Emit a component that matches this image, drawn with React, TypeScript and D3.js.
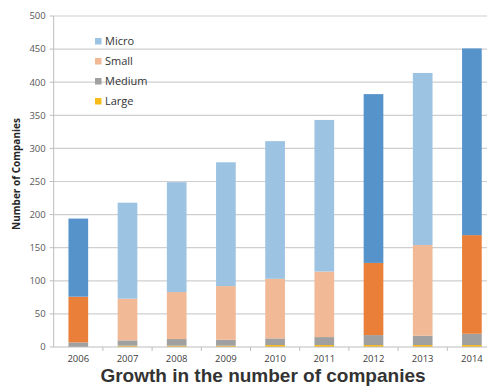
import React from "react";
import * as d3 from "d3";

const years = ["2006", "2007", "2008", "2009", "2010", "2011", "2012", "2013", "2014"];
const large = [0, 2, 2, 2, 3, 3, 3, 3, 3];
const medium = [7, 8, 10, 9, 10, 12, 15, 14, 17];
const small = [69, 63, 71, 81, 90, 99, 109, 137, 149];
const micro = [118, 145, 166, 187, 208, 229, 255, 260, 282];
const highlighted = ["2006", "2012", "2014"];
const yTicks = [0, 50, 100, 150, 200, 250, 300, 350, 400, 450, 500];
const seriesNames = ["Large", "Medium", "Small", "Micro"];
const legendNames = ["Micro", "Small", "Medium", "Large"];

const W = 487;
const H = 389;
const left = 53.7;
const step = 49.2;
const top = 16;
const bottom = 347;

const lightColors: Record<string, string> = {
  Micro: "#9dc3e3",
  Small: "#f1b995",
  Medium: "#a0a0a0",
  Large: "#f7bb1c",
};
const darkColors: Record<string, string> = {
  Micro: "#5593ca",
  Small: "#ea7f39",
  Medium: "#a0a0a0",
  Large: "#f7bb1c",
};

export default function App() {
  const rows = years.map((y, i) => ({
    year: y,
    Large: large[i],
    Medium: medium[i],
    Small: small[i],
    Micro: micro[i],
  }));
  const stack = d3.stack<any>().keys(seriesNames);
  const series = stack(rows);

  const x = d3
    .scaleBand<string>()
    .domain(years)
    .range([left, left + step * years.length])
    .paddingInner(0.6)
    .paddingOuter(0.3);
  const y = d3.scaleLinear().domain([0, 500]).range([bottom, top]);

  return (
    <svg
      width={W}
      height={H}
      style={{ position: "absolute", left: 0, top: 0, background: "#fff" }}
      fontFamily="'Open Sans', 'DejaVu Sans', sans-serif"
    >
      {yTicks.map((t) => (
        <g key={t}>
          {t > 0 && (
            <line x1={left} x2={W} y1={y(t)} y2={y(t)} stroke="#cfcfcf" strokeWidth={1.2} />
          )}
          <line x1={left - 4} x2={left} y1={y(t)} y2={y(t)} stroke="#bdbdbd" strokeWidth={1} />
          <text x={left - 8} y={y(t)} dy="0.35em" textAnchor="end" fontSize={9.5} fill="#595959">
            {t}
          </text>
        </g>
      ))}
      <line x1={left} x2={left} y1={top} y2={bottom} stroke="#bdbdbd" strokeWidth={1} />
      {series.map((s) =>
        s.map((d, i) => {
          const yr = years[i];
          const hi = highlighted.includes(yr);
          const col = (hi ? darkColors : lightColors)[s.key];
          const h = y(d[0]) - y(d[1]);
          if (h <= 0) return null;
          return (
            <rect
              key={s.key + yr}
              x={x(yr)}
              width={x.bandwidth()}
              y={y(d[1])}
              height={h}
              fill={col}
            />
          );
        })
      )}
      <line x1={left} x2={W} y1={bottom} y2={bottom} stroke="#bdbdbd" strokeWidth={1} />
      {years.map((yr, i) => (
        <line
          key={"tk" + yr}
          x1={left + step * (i + 1)}
          x2={left + step * (i + 1)}
          y1={bottom}
          y2={bottom + 4}
          stroke="#bdbdbd"
        />
      ))}
      {years.map((yr) => (
        <text
          key={"xl" + yr}
          x={(x(yr) as number) + x.bandwidth() / 2}
          y={362}
          textAnchor="middle"
          fontSize={9.5}
          fill="#404040"
        >
          {yr}
        </text>
      ))}
      <text
        transform={`translate(20, 174) rotate(-90)`}
        textAnchor="middle"
        fontSize={10}
        fontWeight="bold"
        fill="#262626"
      >
        Number of Companies
      </text>
      {legendNames.map((n, i) => (
        <g key={"lg" + n} transform={`translate(95, ${41 + i * 20})`}>
          <rect x={0} y={-3} width={6.5} height={6.5} fill={lightColors[n]} />
          <text x={10} y={0} dy="0.38em" fontSize={11} fill="#333">
            {n}
          </text>
        </g>
      ))}
      <text
        x={263}
        y={382}
        textAnchor="middle"
        fontSize={19}
        fontWeight="bold"
        fill="#333"
        fontFamily="'Liberation Sans', Arial, sans-serif"
      >
        Growth in the number of companies
      </text>
    </svg>
  );
}
